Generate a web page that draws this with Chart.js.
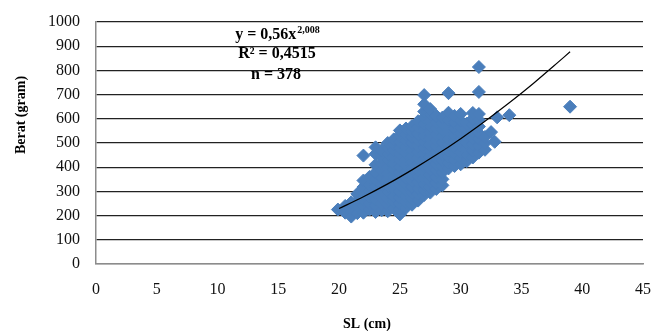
<!DOCTYPE html>
<html>
<head>
<meta charset="utf-8">
<script src="https://cdn.jsdelivr.net/npm/chart.js@4.4.0/dist/chart.umd.min.js"></script>
<style>
  html, body { margin: 0; padding: 0; background: #fff; }
  #wrap { width: 651px; height: 331px; }
</style>
</head>
<body>
<div id="wrap"><canvas id="chart" width="651" height="331"></canvas></div>
<script>
// SL (cm) columns and the Berat (gram) values read in each column
var slCols = [19.9, 20.5, 21, 21.5, 22, 22.5, 23, 23.5, 24, 24.5, 25, 25.5, 26, 26.5,
  27, 27.5, 28, 28.5, 29, 29.5, 30, 30.5, 31, 31.5, 32, 32.5, 32.8, 33, 34, 39];
var beratCols = [
  [225],
  [212, 240],
  [196, 228, 255],
  [210, 238, 262, 290],
  [212, 240, 265, 290, 318, 345, 448],
  [225, 250, 280, 305, 330, 360],
  [215, 242, 268, 295, 320, 350, 378, 410, 455, 482],
  [222, 250, 275, 300, 330, 355, 385, 415, 440, 470],
  [218, 245, 270, 298, 322, 350, 375, 400, 430, 455, 480, 500],
  [230, 258, 280, 310, 335, 360, 390, 415, 445, 470, 495, 515],
  [205, 225, 250, 275, 300, 325, 350, 378, 402, 430, 455, 480, 505, 530, 552],
  [232, 255, 282, 305, 330, 355, 380, 408, 432, 458, 485, 510, 535, 560],
  [245, 270, 295, 318, 345, 370, 395, 420, 445, 470, 500, 525, 548, 570],
  [262, 288, 312, 338, 362, 388, 412, 438, 462, 488, 512, 538, 565, 590],
  [285, 305, 330, 355, 380, 405, 430, 455, 480, 505, 530, 555, 580, 605, 630, 660, 698],
  [295, 318, 342, 368, 392, 418, 442, 468, 492, 518, 542, 568, 592, 618, 640],
  [310, 335, 360, 385, 410, 435, 460, 485, 510, 535, 560, 585, 612],
  [325, 350, 378, 402, 428, 452, 478, 502, 528, 555, 580, 605],
  [395, 420, 445, 470, 495, 520, 545, 570, 598, 625, 706],
  [405, 430, 458, 482, 508, 532, 560, 585, 612],
  [412, 438, 462, 490, 515, 540, 565, 592, 620],
  [425, 450, 478, 502, 528, 555, 580],
  [440, 468, 495, 520, 548, 575, 600, 624],
  [460, 488, 515, 540, 568, 595, 620, 711, 814],
  [472, 500, 525],
  [545],
  [505],
  [606],
  [615],
  [650]
];

// power trendline y = 0,56x^2,008
var trendSL = [20, 22, 24, 26, 28, 30, 32, 34, 36, 38, 39];
var trendBerat = [229, 278, 331, 389, 451, 518, 590, 666, 747, 833, 877];

var xTicks = [0, 5, 10, 15, 20, 25, 30, 35, 40, 45];
var yTicks = [0, 100, 200, 300, 400, 500, 600, 700, 800, 900, 1000];

var eqMain = 'y = 0,56x';
var eqPower = '2,008';
var rSquared = 'R\u00B2 = 0,4515';
var nText = 'n = 378';
var xTitle = 'SL (cm)';
var yTitle = 'Berat (gram)';

var points = [];
slCols.forEach(function(x, i) {
  beratCols[i].forEach(function(y) {
    points.push({ x: x, y: y });
  });
});
var trendPoints = trendSL.map(function(x, i) {
  return { x: x, y: trendBerat[i] };
});

var serif = '"Liberation Serif", "Times New Roman", serif';

// equation block and axis titles
var textPlugin = {
  id: 'textPlugin',
  afterDraw: function(chart) {
    var ctx = chart.ctx;
    ctx.save();
    ctx.fillStyle = '#000';
    ctx.textBaseline = 'alphabetic';

    // equation with superscript
    ctx.font = 'bold 16px ' + serif;
    var w1 = ctx.measureText(eqMain).width;
    ctx.font = 'bold 10px ' + serif;
    var w2 = ctx.measureText(eqPower).width;
    var startX = 277 - (w1 + w2) / 2;
    ctx.textAlign = 'left';
    ctx.font = 'bold 16px ' + serif;
    ctx.fillText(eqMain, startX, 39);
    ctx.font = 'bold 10px ' + serif;
    ctx.fillText(eqPower, startX + w1 + 1, 33);

    ctx.textAlign = 'center';
    ctx.font = 'bold 16px ' + serif;
    ctx.fillText(rSquared, 277, 58);
    ctx.fillText(nText, 276, 79);

    // axis titles
    ctx.font = 'bold 14px ' + serif;
    ctx.fillText(xTitle, 367, 328);
    ctx.translate(25, 115);
    ctx.rotate(-Math.PI / 2);
    ctx.fillText(yTitle, 0, 0);
    ctx.restore();
  }
};

var ctx = document.getElementById('chart').getContext('2d');
var chart = new Chart(ctx, {
  type: 'scatter',
  data: {
    datasets: [{
      label: 'trend',
      data: trendPoints,
      showLine: true,
      borderColor: '#000',
      borderWidth: 1.2,
      pointRadius: 0,
      tension: 0.3,
      fill: false
    }, {
      label: 'Berat',
      data: points,
      pointStyle: 'rectRot',
      pointRadius: 6.5,
      backgroundColor: '#4a7ebb',
      borderColor: '#4a7ebb',
      borderWidth: 1
    }]
  },
  options: {
    responsive: false,
    animation: false,
    layout: { padding: { left: 0, top: 22, right: 8, bottom: 0 } },
    plugins: {
      legend: { display: false },
      tooltip: { enabled: false }
    },
    scales: {
      x: {
        type: 'linear',
        min: 0,
        max: 45,
        afterBuildTicks: function(scale) {
          scale.ticks = xTicks.map(function(v) { return { value: v }; });
        },
        afterFit: function(scale) {
          scale.height = 67;
          scale.paddingLeft = 0;
          scale.paddingRight = 0;
        },
        grid: { display: false, drawTicks: false },
        border: { display: true, color: '#8c8c8c', width: 1.5 },
        ticks: {
          color: '#111',
          padding: 16,
          maxRotation: 0,
          font: { family: serif, size: 16 },
          callback: function(v) { return String(v); }
        }
      },
      y: {
        type: 'linear',
        min: 0,
        max: 1000,
        afterBuildTicks: function(scale) {
          scale.ticks = yTicks.map(function(v) { return { value: v }; });
        },
        afterFit: function(scale) {
          scale.width = 96;
          scale.paddingTop = 0;
          scale.paddingBottom = 0;
        },
        grid: {
          drawTicks: false,
          color: function(c) { return c.tick && c.tick.value === 0 ? '#8c8c8c' : '#222'; },
          lineWidth: 1.3
        },
        border: { display: true, color: '#8c8c8c', width: 1.5 },
        ticks: {
          color: '#111',
          padding: 16,
          font: { family: serif, size: 16 },
          callback: function(v) { return String(v); }
        }
      }
    }
  },
  plugins: [textPlugin]
});
</script>
</body>
</html>
